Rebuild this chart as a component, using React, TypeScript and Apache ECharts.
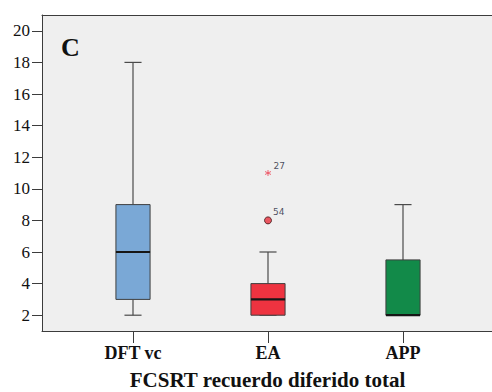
import React, { useEffect, useRef } from "react";
import * as echarts from "echarts";

const categories = ["DFT vc", "EA", "APP"];
const mins = [2, 2, 2];
const q1s = [3, 2, 2];
const medians = [6, 3, 2];
const q3s = [9, 4, 5.5];
const maxs = [18, 6, 9];
const boxColors = ["#7aa8d6", "#ee3340", "#128a49"];
const yTicks = [2, 4, 6, 8, 10, 12, 14, 16, 18, 20];
const extremeOutliers = [{ cat: 1, value: 11, id: "27" }];
const mildOutliers = [{ cat: 1, value: 8, id: "54" }];
const xTitle = "FCSRT recuerdo diferido total";
const panelLabel = "C";

const SERIF = "Liberation Serif";
const LINE = "#3c3c3c";

export default function App() {
  const ref = useRef<HTMLDivElement>(null);
  useEffect(() => {
    if (!ref.current) return;
    const chart = echarts.init(ref.current, undefined, { renderer: "svg" });
    const boxData = categories.map((_, i) => [i, mins[i], q1s[i], medians[i], q3s[i], maxs[i]]);
    const gridPos = { top: 15, bottom: 61 };
    chart.setOption({
      animation: false,
      backgroundColor: "#ffffff",
      grid: [
        { left: 42, right: 0, ...gridPos, show: true, backgroundColor: "#efefef", borderWidth: 0 },
        { left: 65.5, width: 405, ...gridPos },
      ],
      xAxis: [
        {
          type: "value", gridIndex: 0, min: 0, max: 1, position: "bottom",
          axisLine: { show: true, lineStyle: { color: LINE, width: 1 } },
          axisTick: { show: false }, axisLabel: { show: false }, splitLine: { show: false },
        },
        {
          type: "value", gridIndex: 0, min: 0, max: 1, position: "top",
          axisLine: { show: true, lineStyle: { color: LINE, width: 1 } },
          axisTick: { show: false }, axisLabel: { show: false }, splitLine: { show: false },
        },
        {
          type: "category", gridIndex: 1, data: categories, boundaryGap: true,
          axisLine: { show: false },
          axisTick: { show: true, alignWithLabel: true, length: 12, lineStyle: { color: LINE, width: 1 } },
          axisLabel: { margin: 13, fontFamily: SERIF, fontWeight: "bold", fontSize: 18, color: "#111" },
          splitLine: { show: false },
        },
      ],
      yAxis: [
        {
          type: "value", gridIndex: 0, min: 1, max: 21,
          axisLine: { show: true, lineStyle: { color: LINE, width: 1 } },
          axisTick: { show: true, length: 10, customValues: yTicks, lineStyle: { color: LINE, width: 1 } },
          axisLabel: { customValues: yTicks, margin: 12, fontFamily: SERIF, fontSize: 17, color: "#111" },
          splitLine: { show: false },
        },
        {
          type: "value", gridIndex: 1, min: 1, max: 21, show: false,
          splitLine: { show: false },
        },
      ],
      series: [
        {
          type: "custom",
          xAxisIndex: 2,
          yAxisIndex: 1,
          data: boxData,
          encode: { x: 0, y: [1, 2, 3, 4, 5] },
          renderItem: (params: any, api: any) => {
            const idx = api.value(0);
            const pMin = api.coord([idx, api.value(1)]);
            const pQ1 = api.coord([idx, api.value(2)]);
            const pMed = api.coord([idx, api.value(3)]);
            const pQ3 = api.coord([idx, api.value(4)]);
            const pMax = api.coord([idx, api.value(5)]);
            const band = api.size([1, 0])[0];
            const bw = band * 0.253;
            const cw = bw / 2;
            const cx = pMed[0];
            const lineStyle = { stroke: "#4a4a4a", lineWidth: 1.2 };
            return {
              type: "group",
              children: [
                { type: "line", shape: { x1: cx, y1: pMin[1], x2: cx, y2: pQ1[1] }, style: lineStyle },
                { type: "line", shape: { x1: cx, y1: pQ3[1], x2: cx, y2: pMax[1] }, style: lineStyle },
                { type: "line", shape: { x1: cx - cw / 2, y1: pMin[1], x2: cx + cw / 2, y2: pMin[1] }, style: lineStyle },
                { type: "line", shape: { x1: cx - cw / 2, y1: pMax[1], x2: cx + cw / 2, y2: pMax[1] }, style: lineStyle },
                {
                  type: "rect",
                  shape: { x: cx - bw / 2, y: pQ3[1], width: bw, height: pQ1[1] - pQ3[1] },
                  style: { fill: boxColors[params.dataIndex], stroke: "#3f3f3f", lineWidth: 1 },
                },
                {
                  type: "line",
                  shape: { x1: cx - bw / 2, y1: pMed[1], x2: cx + bw / 2, y2: pMed[1] },
                  style: { stroke: "#161616", lineWidth: 2.2 },
                },
              ],
            };
          },
        },
        {
          type: "scatter",
          xAxisIndex: 2,
          yAxisIndex: 1,
          data: extremeOutliers.map((o) => ({ value: [o.cat, o.value], name: o.id })),
          symbol: "path://M0,-5L0,5M-4.33,-2.5L4.33,2.5M-4.33,2.5L4.33,-2.5",
          symbolSize: 6,
          itemStyle: { color: "none", borderColor: "#ee4455", borderWidth: 1 },
          label: {
            show: true, position: "right", distance: 0, offset: [0, -7],
            formatter: (p: any) => p.name,
            fontFamily: "DejaVu Sans", fontSize: 9, color: "#1d2438",
          },
        },
        {
          type: "scatter",
          xAxisIndex: 2,
          yAxisIndex: 1,
          data: mildOutliers.map((o) => ({ value: [o.cat, o.value], name: o.id })),
          symbol: "circle",
          symbolSize: 7,
          itemStyle: { color: "#e8303c", borderColor: "#3a1a1a", borderWidth: 1 },
          label: {
            show: true, position: "right", distance: 1, offset: [0, -8],
            formatter: (p: any) => p.name,
            fontFamily: "DejaVu Sans", fontSize: 9, color: "#1d2438",
          },
        },
      ],
      graphic: [
        {
          type: "text", x: 61, y: 47,
          style: { text: panelLabel, fontFamily: SERIF, fontWeight: "bold", fontSize: 26, fill: "#111", verticalAlign: "middle", align: "left" },
        },
        {
          type: "text", x: 267.5, y: 380,
          style: { text: xTitle, fontFamily: SERIF, fontWeight: "bold", fontSize: 21, fill: "#111", verticalAlign: "middle", align: "center" },
        },
      ],
    });
    return () => chart.dispose();
  }, []);
  return (
    <div
      ref={ref}
      style={{ position: "fixed", left: 0, top: 0, width: 492, height: 392 }}
    />
  );
}
